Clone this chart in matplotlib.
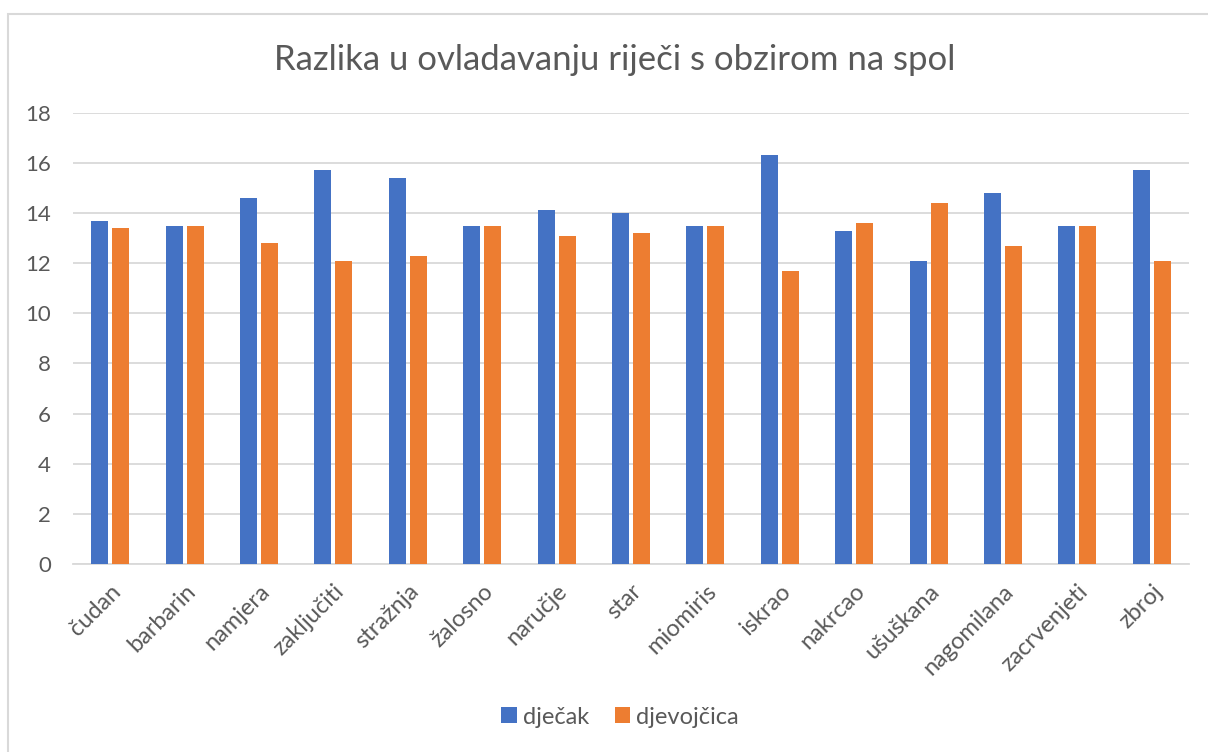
import matplotlib
matplotlib.use("Agg")
import matplotlib.pyplot as plt
import numpy as np
from matplotlib.patches import Rectangle

words = ["čudan", "barbarin", "namjera", "zaključiti", "stražnja", "žalosno",
         "naručje", "star", "miomiris", "iskrao", "nakrcao", "ušuškana",
         "nagomilana", "zacrvenjeti", "zbroj"]
djecak = [13.7, 13.5, 14.6, 15.7, 15.4, 13.5, 14.1, 14.0, 13.5, 16.3, 13.3, 12.1, 14.8, 13.5, 15.7]
djevojcica = [13.4, 13.5, 12.8, 12.1, 12.3, 13.5, 13.1, 13.2, 13.5, 11.7, 13.6, 14.4, 12.7, 13.5, 12.1]
series_names = ["dječak", "djevojčica"]
yticks = list(range(0, 20, 2))

BLUE = "#4472c4"
ORANGE = "#ed7d31"
GREY = "#595959"
GRID = "#d9d9d9"

plt.rcParams["font.family"] = ["Lato", "DejaVu Sans"]

W, H = 1208, 752
fig = plt.figure(figsize=(W / 100, H / 100), dpi=100)
ax = fig.add_axes([73 / W, 1 - 564 / H, (1189 - 73) / W, (564 - 112.7) / H])

# chart border (top + left visible in the reference)
fig.patches.append(Rectangle((8 / W, -0.1), 1.2, 1 - 14 / H + 0.1, transform=fig.transFigure,
                             fill=False, edgecolor=GRID, linewidth=1.5))

x = np.arange(len(words))
w = 0.228
ax.bar(x - 0.141, djecak, w, color=BLUE, label=series_names[0], zorder=3)
ax.bar(x + 0.141, djevojcica, w, color=ORANGE, label=series_names[1], zorder=3)

ax.set_xlim(-0.5, len(words) - 0.5)
ax.set_ylim(0, 18)
ax.set_yticks(yticks)
ax.set_yticklabels([str(t) for t in yticks], fontsize=16, color=GREY)
ax.set_xticks(x)
ax.set_xticklabels(words, rotation=45, ha="right", rotation_mode="anchor",
                   fontsize=17, color=GREY)
ax.tick_params(axis="both", length=0)
ax.tick_params(axis="y", pad=16)
ax.tick_params(axis="x", pad=12)
ax.grid(axis="y", color=GRID, linewidth=1.3, zorder=0)
for s in ["top", "right", "left"]:
    ax.spines[s].set_visible(False)
ax.spines["bottom"].set_color(GRID)
ax.spines["bottom"].set_linewidth(1.3)

fig.text(615 / W, 1 - 60 / H, "Razlika u ovladavanju riječi s obzirom na spol",
         ha="center", va="center", fontsize=25, color=GREY)

fig.legend(loc="center", bbox_to_anchor=(620 / W, 1 - 717 / H), ncol=2, frameon=False,
           fontsize=17, labelcolor=GREY, handlelength=0.65, handleheight=0.65,
           handletextpad=0.25, columnspacing=1.1)

fig.savefig("out.png", dpi=100)
